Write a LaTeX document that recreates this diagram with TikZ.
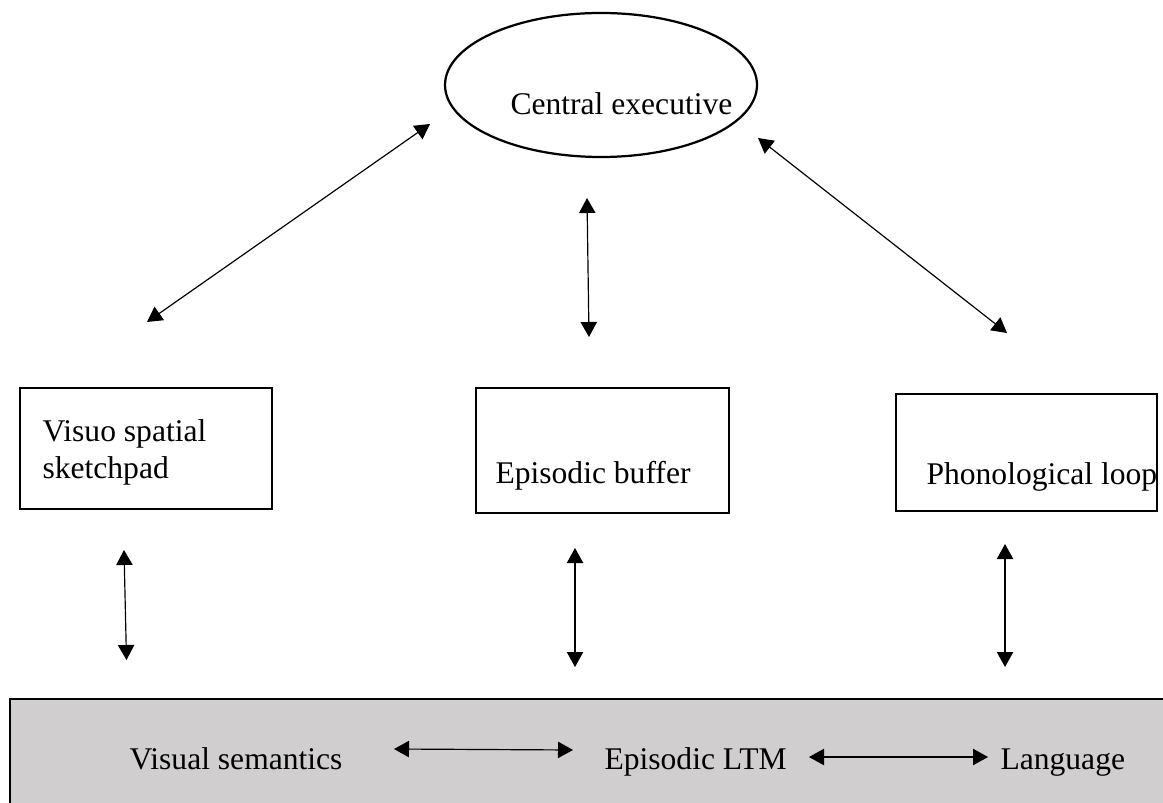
\documentclass[tikz,border=0pt]{standalone}
\usepackage{fontspec}
\setmainfont{Liberation Serif}
\usetikzlibrary{arrows.meta,shapes.geometric}
\definecolor{grisltm}{RGB}{208,206,207}
\newcommand{\pix}{0.38pt}
\tikzstyle{composant} = [rectangle, draw=black, line width=1.05pt, inner sep=0pt]
\tikzstyle{texte} = [inner sep=0pt, anchor=base west, font=\fontsize{12}{13.8}\selectfont]
\tikzstyle{fleche} = [<->, >={Triangle[length=5.7pt,width=6.2pt]}, line width=0.45pt]

\begin{document}
\begin{tikzpicture}[x=\pix, y=-\pix]
    \clip (0,0) rectangle (1163,803);

    \node [ellipse, draw=black, line width=0.85pt, inner sep=0pt, minimum width=312*\pix, minimum height=144*\pix] (executif) at (601,85) {};
    \node [texte] (executiftxt) at (510,115) {Central executive};

    \node [composant, minimum width=252*\pix, minimum height=121*\pix] (visuo) at (146,448.5) {};
    \node [composant, minimum width=253*\pix, minimum height=125*\pix] (tampon) at (602.5,450.5) {};
    \node [composant, minimum width=261*\pix, minimum height=117*\pix] (boucle) at (1026.5,452.5) {};

    % base of a two-line node = base of its last line
    \node [texte, align=left] (visuotxt) at (42,478) {Visuo spatial\\sketchpad};
    \node [texte] (tampontxt) at (495,483) {Episodic buffer};
    \node [texte] (boucletxt) at (926,484) {Phonological loop};

    \node [composant, fill=grisltm, minimum width=1170*\pix, minimum height=120*\pix] (ltm) at (595,759) {};
    \node [texte] (semantique) at (129,769) {Visual semantics};
    \node [texte] (episodique) at (604,769) {Episodic LTM};
    \node [texte] (langage) at (1000,769) {Language};

    \foreach \i/\xa/\ya/\xb/\yb in {1/430/124/147/322, 2/587/198/589/337, 3/758/138/1007/333,
        4/124/550/126.5/660, 5/575/548/575/667, 6/1005/544/1005/667,
        7/394/749/573/750, 8/809/757/988/757}
    {
        \coordinate (debut\i) at (\xa,\ya);
        \coordinate (fin\i) at (\xb,\yb);
        \draw [fleche] (debut\i) -- (fin\i);
    }
\end{tikzpicture}
\end{document}
